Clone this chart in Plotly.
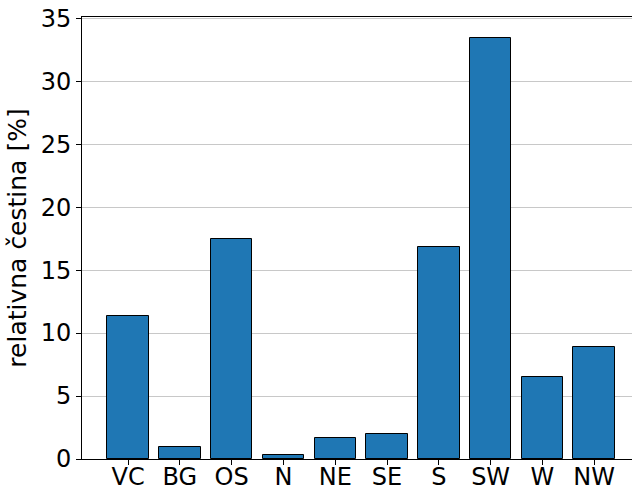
import plotly.graph_objects as go

categories = ["VC", "BG", "OS", "N", "NE", "SE", "S", "SW", "W", "NW"]
values = [11.36, 0.98, 17.5, 0.29, 1.67, 2.01, 16.84, 33.44, 6.51, 8.92]
y_ticks = [0, 5, 10, 15, 20, 25, 30, 35]

fig = go.Figure(go.Bar(
    x=list(range(len(categories))), y=values, width=0.8,
    marker=dict(color="#1f77b4", line=dict(color="black", width=1)),
))

fig.update_layout(
    width=632, height=491,
    margin=dict(l=82, r=0, t=17, b=32),
    plot_bgcolor="white", paper_bgcolor="white",
    font=dict(family="DejaVu Sans", size=24, color="black"),
    showlegend=False,
    bargap=0,
)
fig.update_xaxes(
    tickmode="array", tickvals=list(range(len(categories))), ticktext=categories,
    range=[-0.89, 9.73], showline=True, linecolor="black", linewidth=1, mirror=True,
    ticks="outside", ticklen=5, tickcolor="black", showgrid=False, zeroline=False,
    tickfont=dict(size=24), automargin=False, ticklabelstandoff=-9,
    ticklabeloverflow="allow",
)
fig.update_yaxes(
    tickmode="array", tickvals=y_ticks, range=[0, 35.1],
    showline=True, linecolor="black", linewidth=1, mirror=False,
    ticks="outside", ticklen=5, tickcolor="black",
    showgrid=True, gridcolor="#c8c8c8", gridwidth=1, zeroline=False,
    title=dict(text="relativna čestina [%]", font=dict(size=25), standoff=6),
    tickfont=dict(size=24), automargin=False, ticklabeloverflow="allow",
)

fig.write_html(
    "out.html",
    config={"displayModeBar": False},
    post_script="document.body.style.margin='0';document.body.style.overflow='hidden';",
)
